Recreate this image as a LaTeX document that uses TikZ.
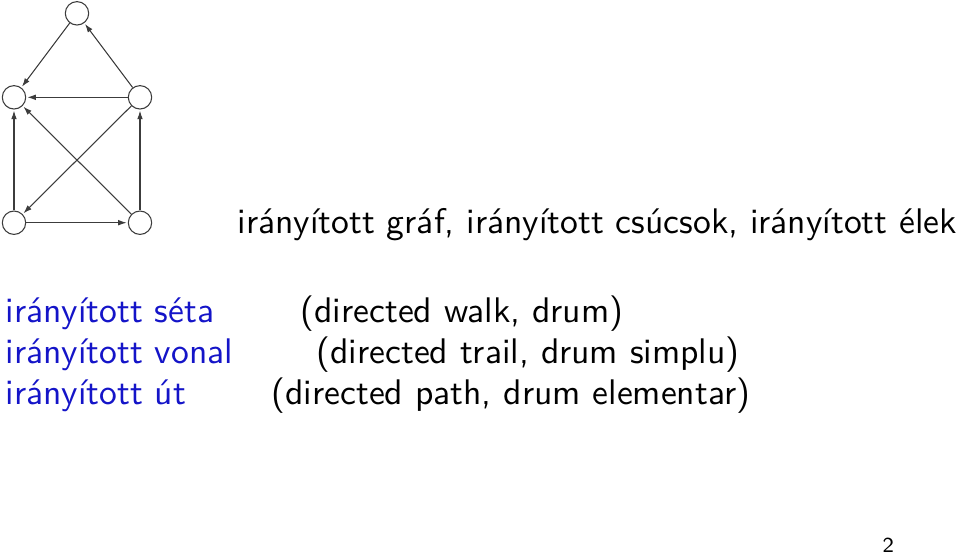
\documentclass[tikz,border=0pt]{standalone}
\usetikzlibrary{arrows.meta}
\definecolor{termblue}{RGB}{20,20,200}
\definecolor{edgegray}{RGB}{60,60,60}
\begin{document}
\begin{tikzpicture}[x=0.281pt,y=-0.281pt,
  vert/.style={circle,draw=edgegray,line width=0.3pt,minimum size=23.4*0.281pt,inner sep=0pt},
  arc/.style={draw=edgegray,line width=0.3pt,-{Latex[length=2.4pt,width=1.6pt]},shorten >=0.3pt},
  txt/.style={anchor=base west,inner sep=0pt,font=\sffamily\fontsize{10}{12}\selectfont},
  term/.style={txt,text=termblue}]
\useasboundingbox (0,0) rectangle (960,554);
\node[vert] (t) at (77,13.3) {};
\node[vert] (ml) at (14,97.3) {};
\node[vert] (mr) at (140,97.3) {};
\node[vert] (bl) at (14,222.7) {};
\node[vert] (br) at (140,222.7) {};
\draw[arc] (t) -- (ml);
\draw[arc] (mr) -- (t);
\draw[arc] (mr) -- (ml);
\draw[arc] (mr) -- (bl);
\draw[arc] (br) -- (ml);
\draw[arc] (bl) -- (ml);
\draw[arc] (bl) -- (br);
\draw[arc] (br) -- (mr);
\node[txt] (title) at (237,233) {irányított gráf, irányított csúcsok, irányított élek};
\node[term] (t1) at (5,322) {irányított séta};
\node[term] (t2) at (5,363) {irányított vonal};
\node[term] (t3) at (5,404) {irányított út};
\node[txt] (e1) at (300,322) {(directed walk, drum)};
\node[txt] (e2) at (316,363) {(directed trail, drum simplu)};
\node[txt] (e3) at (271,404) {(directed path, drum elementar)};
\node[txt,font=\sffamily\fontsize{6}{7}\selectfont] (pg) at (882,552) {2};
\end{tikzpicture}
\end{document}
